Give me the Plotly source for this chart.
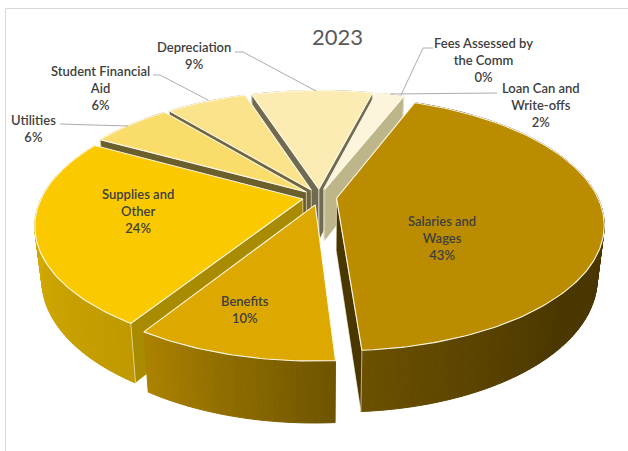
import numpy as np
import plotly.graph_objects as go

# Budget shares, clockwise from the first slice
categories = ["Salaries and Wages", "Benefits", "Supplies and Other", "Utilities",
              "Student Financial Aid", "Depreciation", "Fees Assessed by the Comm",
              "Loan Can and Write-offs"]
values = [43, 10, 24, 6, 6, 9, 0, 2]
label_names = ["Salaries and<br>Wages", "Benefits", "Supplies and<br>Other", "Utilities",
               "Student Financial<br>Aid", "Depreciation", "Fees Assessed by<br>the Comm",
               "Loan Can and<br>Write-offs"]

# Slice styling
top_colors = ["#BC8C00", "#DDA800", "#FBC900", "#F9DC6A", "#FBE38C", "#FCECB4", "#FDF3D0", "#FDF4DC"]
side_colors = ["#4A3700", "#A98B00", "#A98B00", "#6B5F2B", "#6F6540", "#6F6A50", "#8F8A60", "#BDB68A"]
wall_stops = [
    [(0, "#4A3700"), (0.72, "#4A3700"), (1, "#6A5000")],
    [(0, "#6E5400"), (1, "#AC8200")],
    [(0, "#BF9900"), (0.55, "#D4AA00"), (1, "#D4AA00")],
    [(0, "#B9A040"), (1, "#B9A040")],
    [(0, "#B9A860"), (1, "#B9A860")],
    [(0, "#B9AE80"), (1, "#B9AE80")],
    [(0, "#C0B890"), (1, "#C0B890")],
    [(0, "#BDB68A"), (1, "#BDB68A")],
]
edge_color = "#FFF8E4"
text_color = "#404040"

# Layout of the tilted disc, in page pixels
CX, CY = 319.5, 197
RADIUS = 261
TILT = 0.465
PERSPECTIVE = 0.2
EXPLODE = 0.066
BASE_SHRINK = 0.975
DEPTH = 52
START_ANGLE = 21.5


def project(u, v):
    s = 1 / (1 + PERSPECTIVE * v)
    return CX + RADIUS * u * s, CY - RADIUS * TILT * v * s


def project_base(u, v):
    x, y = project(u, v)
    s = 1 / (1 + PERSPECTIVE * v)
    return CX + (x - CX) * BASE_SHRINK, CY + (y - CY) * BASE_SHRINK + DEPTH * s


def hex_rgb(c):
    return np.array([int(c[i:i + 2], 16) for i in (1, 3, 5)], float)


def stop_color(stops, f):
    pos = [p for p, _ in stops]
    rgb = np.array([hex_rgb(c) for _, c in stops])
    out = [np.interp(f, pos, rgb[:, i]) for i in range(3)]
    return "rgb({:.0f},{:.0f},{:.0f})".format(*out)


def signed_area(xs, ys):
    return sum(xs[j] * ys[(j + 1) % 4] - xs[(j + 1) % 4] * ys[j] for j in range(4))


def poly(xs, ys, fill, line=None, width=1.0):
    return go.Scatter(x=list(xs), y=list(ys), mode="lines", fill="toself", fillcolor=fill,
                      line=dict(color=line or fill, width=width), hoverinfo="skip",
                      showlegend=False)


fig = go.Figure()

total = sum(values)
spans = [v / total * 360 for v in values]
starts = START_ANGLE + np.concatenate([[0], np.cumsum(spans)[:-1]])
mids = starts + np.array(spans) / 2

# Back slices are painted first so nearer ones cover them
for i in sorted(range(len(values)), key=lambda n: -np.cos(np.radians(mids[n]))):
    a0, a1 = starts[i], starts[i] + spans[i]
    mid = np.radians(mids[i])
    ou, ov = EXPLODE * np.sin(mid), EXPLODE * np.cos(mid)
    n = max(4, int(spans[i]))
    th = np.radians(np.linspace(a0, a1, n + 1))
    us, vs = ou + np.sin(th), ov + np.cos(th)

    # Rim, split into strips to carry the shading
    tx, ty = project(us, vs)
    bx, by = project_base(us, vs)
    for k in range(n):
        fig.add_trace(poly([tx[k], tx[k + 1], bx[k + 1], bx[k], tx[k]],
                           [ty[k], ty[k + 1], by[k + 1], by[k], ty[k]],
                           stop_color(wall_stops[i], (k + 0.5) / n)))

    # Radial faces, only those turned towards the viewer
    for t, facing in ((th[0], -1), (th[-1], 1)):
        pts_u = np.array([ou, ou + np.sin(t)])
        pts_v = np.array([ov, ov + np.cos(t)])
        fx, fy = project(pts_u, pts_v)
        gx, gy = project_base(pts_u, pts_v)
        qx = [fx[0], fx[1], gx[1], gx[0]]
        qy = [fy[0], fy[1], gy[1], gy[0]]
        if signed_area(qx, qy) * facing > 0:
            fig.add_trace(poly(qx + qx[:1], qy + qy[:1], side_colors[i], edge_color, 0.6))

    # Top face
    ax, ay = project(ou, ov)
    fig.add_trace(poly([ax, *tx, ax], [ay, *ty, ay], top_colors[i], edge_color, 1.1))

# Leader lines
leaders = [
    ([235, 243, 316], [52, 52, 91]),
    ([153, 160, 208], [75, 75, 100]),
    ([60, 128], [124, 126]),
    ([433, 423, 401], [48, 48, 95]),
    ([497, 390], [93, 94]),
]
for lx, ly in leaders:
    fig.add_trace(go.Scatter(x=lx, y=ly, mode="lines", line=dict(color="#ADADAD", width=1),
                             hoverinfo="skip", showlegend=False))

# Data labels: centre of each text block
label_pos = [(442, 238), (245, 309), (138, 211), (33, 128), (100, 88), (194, 55), (483, 60), (541, 105)]
for name, v, (lx, ly) in zip(label_names, values, label_pos):
    fig.add_annotation(x=lx, y=ly, text=f"{name}<br>{round(v)}%", showarrow=False,
                       xanchor="center", yanchor="middle", align="center",
                       font=dict(family="Lato", size=13, color=text_color, weight=600))

fig.add_annotation(x=337, y=36, text="2023", showarrow=False, xanchor="center", yanchor="middle",
                   font=dict(family="Lato", size=22, color="#595959"))

# Chart frame, running off the page on the right and at the bottom
fig.add_shape(type="rect", x0=5.5, y0=8.5, x1=700, y1=600, line=dict(color="#D9D9D9", width=1),
              xref="x", yref="y", layer="below")

fig.update_layout(width=628, height=451, autosize=False, margin=dict(l=0, r=0, t=0, b=0),
                  paper_bgcolor="white", plot_bgcolor="white", showlegend=False,
                  xaxis=dict(range=[0, 628], visible=False, fixedrange=True),
                  yaxis=dict(range=[451, 0], visible=False, fixedrange=True))

fig.write_html("out.html", config=dict(displayModeBar=False))
